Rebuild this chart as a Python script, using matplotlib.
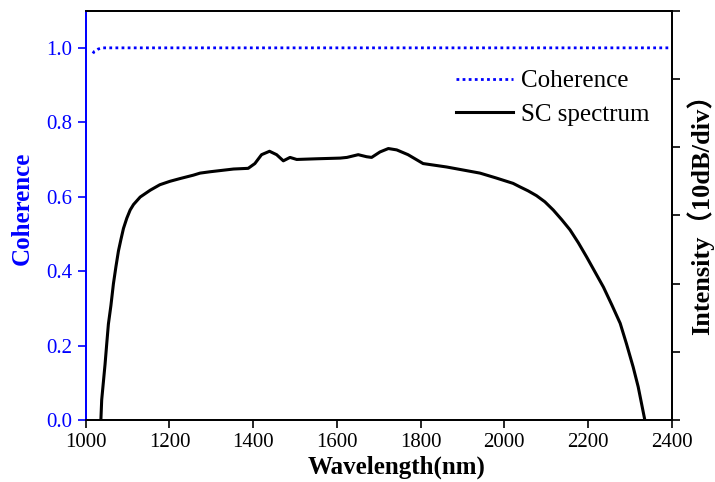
# coherence of the supercontinuum plus its measured spectrum (twin y axes)
import matplotlib.pyplot as plt

plt.rcParams['font.family'] = ['Liberation Serif', 'Noto Sans CJK SC']

# spectral coherence, flat at ~1 over the whole band
coh_wl = [1017, 1020, 1025, 1030, 1040, 1200, 1400, 1600, 1800, 2000, 2200, 2400]
coh_val = [0.985, 0.990, 0.993, 0.997, 1.0, 1.0, 1.0, 1.0, 1.0, 1.0, 1.0, 1.0]

# SC spectrum, dB relative to top of the right axis (10 dB/div)
sc_wl = [1036, 1038, 1042, 1046, 1050, 1054, 1060, 1066, 1072, 1078, 1084, 1090,
         1098, 1106, 1114, 1130, 1154, 1177, 1201, 1225, 1257, 1273, 1297,
         1353, 1388, 1404, 1420, 1439, 1456, 1472, 1488, 1504, 1552, 1608, 1624,
         1651, 1671, 1683, 1703, 1723, 1743, 1770, 1806, 1862, 1942, 1980, 2021,
         2037, 2057, 2077, 2097, 2117, 2137, 2157, 2177, 2197, 2217, 2237, 2257,
         2277, 2292, 2308, 2320, 2336]
sc_db = [-60.0, -57.0, -54.4, -51.8, -48.8, -45.9, -43.2, -40.0, -37.5, -35.2, -33.5, -31.9,
         -30.4, -29.2, -28.4, -27.3, -26.3, -25.5, -25.0, -24.6, -24.1, -23.8, -23.6,
         -23.2, -23.1, -22.4, -21.1, -20.6, -21.1, -22.0, -21.5, -21.8, -21.7, -21.6, -21.5,
         -21.1, -21.4, -21.5, -20.7, -20.2, -20.4, -21.1, -22.4, -22.9, -23.8, -24.5, -25.3,
         -25.8, -26.4, -27.1, -28.0, -29.2, -30.6, -32.1, -34.0, -36.1, -38.3, -40.5, -43.1,
         -45.8, -48.8, -52.2, -55.1, -60.0]

x_ticks = [1000, 1200, 1400, 1600, 1800, 2000, 2200, 2400]
coh_ticks = [0.0, 0.2, 0.4, 0.6, 0.8, 1.0]
db_ticks = [-60, -50, -40, -30, -20, -10, 0]

blue = '#0000ff'

fig, ax = plt.subplots(figsize=(7.15, 4.82), dpi=100)
fig.subplots_adjust(left=0.12, right=0.9394, bottom=0.128, top=0.978)
ax2 = ax.twinx()

l1, = ax.plot(coh_wl, coh_val, color=blue, ls=(0, (1, 1.2)), lw=2.0, label='Coherence')
l2, = ax2.plot(sc_wl, sc_db, color='black', lw=2.2, solid_joinstyle='round',
               label='SC spectrum')

ax.set_xlim(1000, 2400)
ax.set_ylim(0, 1.1)
ax2.set_ylim(-60, 0)

ax.set_xticks(x_ticks)
ax.set_yticks(coh_ticks)
ax.set_yticklabels([f'{v:.1f}' for v in coh_ticks])
ax2.set_yticks(db_ticks)
ax2.set_yticklabels([])

ax.tick_params(axis='x', direction='out', length=6, width=1.2, labelsize=15, colors='black')
ax.tick_params(axis='y', direction='out', length=6, width=1.2, labelsize=15,
               colors=blue, labelcolor=blue)
ax2.tick_params(axis='y', direction='out', length=6, width=1.2)

for a in (ax, ax2):
    for s in a.spines.values():
        s.set_linewidth(1.3)
ax2.spines['left'].set_color(blue)
ax.spines['left'].set_color(blue)

ax.set_xlabel('Wavelength(nm)', fontsize=18, fontweight='bold')
ax.xaxis.set_label_coords(0.53, -0.085)
ax.set_ylabel('Coherence', fontsize=18, fontweight='bold', color=blue)
ax.yaxis.set_label_coords(-0.088, 0.518)
ax2.set_ylabel('Intensity（10dB/div）', fontsize=19, fontweight='bold')
ax2.yaxis.set_label_coords(1.026, 0.518)

ax.legend(handles=[l1, l2], loc='upper right', bbox_to_anchor=(1.0, 0.91),
          frameon=False, fontsize=18, handlelength=2.25, handletextpad=0.32,
          labelspacing=0.44)

plt.savefig('out.png', dpi=100)
